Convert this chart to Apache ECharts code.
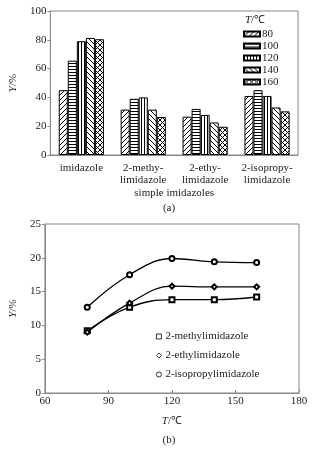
<!DOCTYPE html>
<html><head><meta charset="utf-8">
<script src="https://cdn.jsdelivr.net/npm/echarts@6/dist/echarts.min.js"></script>
<style>html,body{margin:0;padding:0;background:#fff}#c{width:321px;height:449px}</style>
</head><body><div id="c"></div>
<script>
// ---- data (a) ----
const categories = ['imidazole','2-methy-\nlimidazole','2-ethy-\nlimidazole','2-isopropy-\nlimidazole'];
const temps = ['80','100','120','140','160'];
const y80  = [45, 31.5, 26.6, 41];
const y100 = [65.5, 39, 32, 45];
const y120 = [79, 40, 27.8, 41];
const y140 = [81.3, 31.5, 22.6, 33];
const y160 = [80.4, 26.4, 19.6, 30.3];
const barValues = [y80, y100, y120, y140, y160];
// ---- data (b) ----
const tempsB = [80, 100, 120, 140, 160];
const methyl = [9.2, 12.7, 13.8, 13.8, 14.2];
const ethyl = [9.0, 13.3, 15.8, 15.7, 15.7];
const isopropyl = [12.7, 17.5, 19.9, 19.4, 19.3];
const lineNames = ['2-methylimidazole','2-ethylimidazole','2-isopropylimidazole'];

const FONT = 'Liberation Serif';
const TXT = '#222';

function pattern(kind){
  const s = kind === 'h' || kind === 'v' ? 3 : 5;
  const c = document.createElement('canvas');
  c.width = s; c.height = s;
  const g = c.getContext('2d');
  g.fillStyle = '#fff'; g.fillRect(0,0,s,s);
  g.strokeStyle = '#000'; g.fillStyle = '#000'; g.lineWidth = 1;
  if (kind === 'h') g.fillRect(0,0,s,1);
  else if (kind === 'v') g.fillRect(0,0,1,s);
  else {
    const dirs = kind === 'x' ? ['/','\\'] : [kind];
    dirs.forEach(d => {
      g.beginPath();
      for (let o = -s; o <= s; o += s) {
        if (d === '/') { g.moveTo(o, s); g.lineTo(o + s, 0); }
        else { g.moveTo(o, 0); g.lineTo(o + s, s); }
      }
      g.stroke();
    });
  }
  return { image: c, repeat: 'repeat' };
}
const kinds = ['/','h','v','\\','x'];

const chart = echarts.init(document.getElementById('c'), null, {renderer:'canvas'});
const barSeries = temps.map((t,i) => ({
  name: t, type: 'bar', xAxisIndex: 0, yAxisIndex: 0,
  data: barValues[i], barGap: '0%', barCategoryGap: '27%',
  itemStyle: { color: pattern(kinds[i]), borderColor: '#000', borderWidth: 1 }
}));
const syms = ['emptyRect','emptyDiamond','emptyCircle'];
const lineData = [methyl, ethyl, isopropyl];
const lineSeries = lineNames.map((n,i) => ({
  name: n, type: 'line', xAxisIndex: 1, yAxisIndex: 1, smooth: 0.4,
  data: tempsB.map((x,j) => [x, lineData[i][j]]),
  symbol: syms[i], symbolSize: 5,
  lineStyle: { color: '#000', width: 1.3 },
  itemStyle: { color: '#000', borderColor: '#000', borderWidth: 0.8 }
}));

const txt = { fontFamily: FONT, fontSize: 11, color: TXT };
const rich = { i: { fontStyle: 'italic', fontFamily: FONT, fontSize: 11, color: TXT } };
chart.setOption({
  animation: false,
  textStyle: { fontFamily: FONT },
  title: [
    { text: '(a)', left: 164, top: 198, textAlign: 'center',
      textStyle: Object.assign({}, txt, {fontWeight: 'normal'}) },
    { text: '(b)', left: 164, top: 430, textAlign: 'center',
      textStyle: Object.assign({}, txt, {fontWeight: 'normal'}) },
    { text: '{i|T}/℃', left: 250, top: 10, textAlign: 'center',
      textStyle: Object.assign({}, txt, {fontWeight: 'normal', rich: rich}) }
  ],
  grid: [
    { left: 41, right: 23, top: 11, bottom: 294, show: true, borderColor: '#888', borderWidth: 1 },
    { left: 42, right: 22, top: 224, bottom: 56, show: true, borderColor: '#888', borderWidth: 1 }
  ],
  legend: [
    { data: temps, left: 238, top: 23, orient: 'vertical', itemWidth: 16, itemHeight: 5, itemGap: 0,
      icon: 'rect', textStyle: Object.assign({}, txt, {fontSize: 11, lineHeight: 12, padding: [0,0,0,-3]}) },
    { data: lineNames.map((n,i) => ({ name: n, icon: ['rect','diamond','circle'][i] })),
      left: 151, top: 326, orient: 'vertical', itemWidth: 5, itemHeight: 5, itemGap: 8,
      itemStyle: { color: '#fff', borderColor: '#000', borderWidth: 0.8 },
      textStyle: Object.assign({}, txt, {fontSize: 11, padding: [0,0,0,-1]}) }
  ],
  xAxis: [
    { type: 'category', gridIndex: 0, data: categories,
      axisLine: { lineStyle: { color: '#888' } }, axisTick: { show: false },
      axisLabel: Object.assign({}, txt, { interval: 0, margin: 7, lineHeight: 12 }),
      name: 'simple imidazoles', nameLocation: 'middle', nameGap: 33,
      nameTextStyle: Object.assign({}, txt) },
    { type: 'value', gridIndex: 1, min: 60, max: 180, interval: 30,
      axisLine: { lineStyle: { color: '#888' } },
      axisTick: { inside: true, length: 3, lineStyle: { color: '#888' } },
      axisLabel: Object.assign({}, txt, { margin: 3 }), splitLine: { show: false },
      name: '{i|T}/℃', nameLocation: 'middle', nameGap: 23,
      nameTextStyle: Object.assign({}, txt, { rich: rich }) }
  ],
  yAxis: [
    { type: 'value', gridIndex: 0, min: 0, max: 100, interval: 20,
      axisLine: { show: true, lineStyle: { color: '#888' } },
      axisTick: { show: true, length: 3, lineStyle: { color: '#888' } },
      axisLabel: Object.assign({}, txt, { margin: 4 }), splitLine: { show: false },
      name: '{i|Y}/%', nameLocation: 'middle', nameGap: 24,
      nameTextStyle: Object.assign({}, txt, { rich: rich }) },
    { type: 'value', gridIndex: 1, min: 0, max: 25, interval: 5,
      axisLine: { show: true, lineStyle: { color: '#888' } },
      axisTick: { show: true, length: 3, lineStyle: { color: '#888' } },
      axisLabel: Object.assign({}, txt, { margin: 4 }), splitLine: { show: false },
      name: '{i|Y}/%', nameLocation: 'middle', nameGap: 24,
      nameTextStyle: Object.assign({}, txt, { rich: rich }) }
  ],
  series: barSeries.concat(lineSeries)
});
</script>
</body></html>
